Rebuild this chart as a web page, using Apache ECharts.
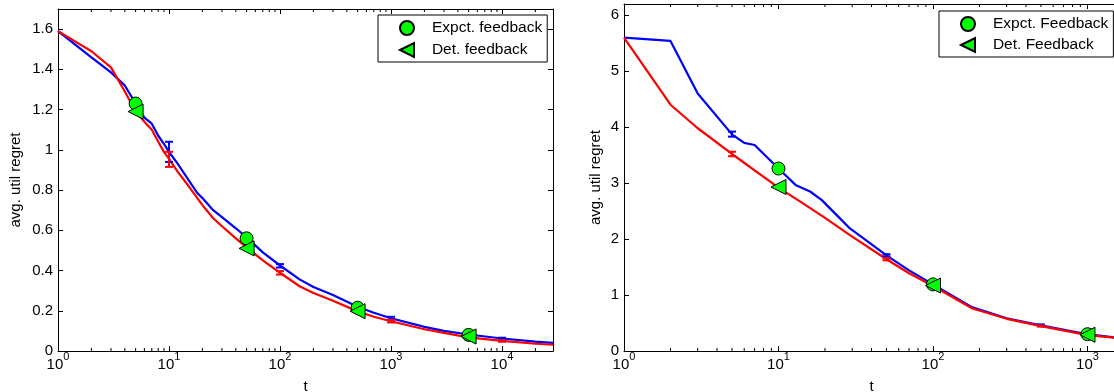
<!DOCTYPE html>
<html><head><meta charset="utf-8">
<script src="https://cdn.jsdelivr.net/npm/echarts@6/dist/echarts.min.js"></script>
<style>html,body{margin:0;padding:0;background:#fff}#c{width:1114px;height:392px}</style>
</head><body><div id="c"></div>
<script>
// ---------- Left panel data ----------
const leftT      = [1,2,3,4,5,6,7,8,9,10,12,15,18,20,25,30,40,50,70,100,150,200,300,500,700,1000,2000,3000,5000,10000,20000,28800];
const leftExp    = [1.59,1.46,1.385,1.32,1.23,1.16,1.13,1.07,1.03,0.99,0.93,0.85,0.785,0.76,0.70,0.665,0.61,0.565,0.49,0.425,0.356,0.318,0.278,0.22,0.19,0.163,0.12,0.10,0.082,0.062,0.047,0.04];
const leftDet    = [1.59,1.49,1.41,1.29,1.19,1.14,1.10,1.04,0.99,0.955,0.89,0.82,0.76,0.725,0.66,0.62,0.56,0.515,0.45,0.389,0.322,0.288,0.25,0.197,0.17,0.148,0.108,0.09,0.068,0.05,0.036,0.031];
const leftErrT   = [10,100,1000,10000];
const leftExpLo  = [0.94,0.415,0.156,0.058];
const leftExpHi  = [1.04,0.432,0.170,0.066];
const leftDetLo  = [0.915,0.380,0.142,0.046];
const leftDetHi  = [0.99,0.397,0.154,0.054];
const leftMarkT  = [5,50,500,5000];
const leftMarkExp= [1.23,0.56,0.215,0.08];
const leftMarkDet= [1.19,0.51,0.198,0.072];
const leftNames  = ['Expct. feedback','Det. feedback'];

// ---------- Right panel data ----------
const rightT     = [1,2,3,5,6,7,10,13,16,19,25,29,50,70,100,180,300,500,1000,1600];
const rightExp   = [5.6,5.54,4.6,3.87,3.72,3.68,3.26,2.96,2.85,2.70,2.37,2.19,1.71,1.44,1.19,0.78,0.585,0.46,0.30,0.235];
const rightDetT  = [1,2,3,5,10,14,20,29,50,70,100,180,300,500,1000,1600];
const rightDet   = [5.6,4.4,3.98,3.52,2.92,2.66,2.38,2.07,1.64,1.39,1.16,0.76,0.575,0.445,0.285,0.23];
const rightErrT  = [5,50,500];
const rightExpLo = [3.83,1.69,0.45];
const rightExpHi = [3.92,1.73,0.475];
const rightDetLo = [3.48,1.62,0.435];
const rightDetHi = [3.56,1.66,0.455];
const rightMarkT = [10,100,1000];
const rightMarkExp=[3.26,1.19,0.30];
const rightMarkDet=[2.93,1.17,0.29];
const rightNames = ['Expct. Feedback','Det. Feedback'];

const yTitle = 'avg. util regret';
const xTitle = 't';

// ---------- helpers ----------
const FONT = 'Liberation Sans, Arial, Helvetica, sans-serif';
const BLUE = '#0000ff', RED = '#ff0000', GREEN = '#00ff00';
const TRI = 'path://M0,5L10,0L10,10Z';
const pairs = (ts, vs) => ts.map((t,i)=>[t, vs[i]]);
const triples = (ts, lo, hi) => ts.map((t,i)=>[t, lo[i], hi[i]]);
function minorTicks(maxV){ const out=[]; for(let d=1; d<maxV; d*=10){ for(let k=2;k<=9;k++){ const v=k*d; if(v<maxV) out.push([v,0]); } } return out; }

function errRender(color){
  return function(params, api){
    const a = api.coord([api.value(0), api.value(1)]);
    const b = api.coord([api.value(0), api.value(2)]);
    const w = 4, st = {stroke: color, lineWidth: 2};
    return {type:'group', children:[
      {type:'line', shape:{x1:a[0],y1:a[1],x2:b[0],y2:b[1]}, style:st},
      {type:'line', shape:{x1:a[0]-w,y1:a[1],x2:a[0]+w,y2:a[1]}, style:st},
      {type:'line', shape:{x1:b[0]-w,y1:b[1],x2:b[0]+w,y2:b[1]}, style:st}
    ]};
  };
}
function minorRender(params, api){
  const cs = params.coordSys;
  const x = api.coord([api.value(0), 0])[0];
  const bot = cs.y + cs.height, top = cs.y;
  const st = {stroke:'#000', lineWidth:1};
  return {type:'group', children:[
    {type:'line', shape:{x1:x,y1:bot,x2:x,y2:bot-3}, style:st},
    {type:'line', shape:{x1:x,y1:top,x2:x,y2:top+3}, style:st}
  ]};
}
const logLabel = v => { const l=Math.log10(v), r=Math.round(l); if(Math.abs(l-r)>1e-6) return ''; return '{b|10}{s|'+r+'}'; };
const axLine = {show:true, onZero:false, lineStyle:{color:'#000', width:1}};
const tick = {show:true, inside:true, length:5, lineStyle:{color:'#000', width:1}};

function xAxes(grid, maxV){
  return [
    {gridIndex:grid, type:'log', logBase:10, min:1, max:maxV, position:'bottom',
     axisLine:axLine, axisTick:tick, splitLine:{show:false}, minorTick:{show:false},
     axisLabel:{color:'#000', fontFamily:FONT, margin:6, showMaxLabel:false, showMinLabel:true, formatter:logLabel,
       rich:{b:{fontSize:15, fontFamily:FONT, color:'#000', lineHeight:15, verticalAlign:'bottom'},
             s:{fontSize:11, fontFamily:FONT, color:'#000', lineHeight:11, verticalAlign:'bottom', padding:[0,0,10,0]}}},
     name:xTitle, nameLocation:'middle', nameGap:28, nameTextStyle:{color:'#000', fontSize:15, fontFamily:FONT}},
    {gridIndex:grid, type:'log', logBase:10, min:1, max:maxV, position:'top',
     axisLine:axLine, axisTick:tick, axisLabel:{show:false}, splitLine:{show:false}}
  ];
}
function yAxes(grid, maxV, step, gap){
  return [
    {gridIndex:grid, type:'value', min:0, max:maxV, interval:step, position:'left',
     axisLine:axLine, axisTick:tick, splitLine:{show:false},
     axisLabel:{color:'#000', fontSize:15, fontFamily:FONT, margin:5, showMaxLabel:false,
       formatter: v => String(+v.toFixed(1))},
     name:yTitle, nameLocation:'middle', nameGap:gap, nameTextStyle:{color:'#000', fontSize:15, fontFamily:FONT}},
    {gridIndex:grid, type:'value', min:0, max:maxV, interval:step, position:'right',
     axisLine:axLine, axisTick:tick, axisLabel:{show:false}, splitLine:{show:false}}
  ];
}
function panelSeries(xi, yi, T, E, DT, D, ET, ELo, EHi, DLo, DHi, MT, ME, MD, names, maxV){
  return [
    {type:'custom', xAxisIndex:xi, yAxisIndex:yi, renderItem:minorRender, data:minorTicks(maxV), silent:true, z:1},
    {type:'line', name:names[0]+' line', xAxisIndex:xi, yAxisIndex:yi, data:pairs(T,E), symbol:'none', lineStyle:{color:BLUE, width:2.2}, itemStyle:{color:BLUE}, z:2},
    {type:'line', name:names[1]+' line', xAxisIndex:xi, yAxisIndex:yi, data:pairs(DT,D), symbol:'none', lineStyle:{color:RED, width:2.2}, itemStyle:{color:RED}, z:2},
    {type:'custom', xAxisIndex:xi, yAxisIndex:yi, renderItem:errRender(BLUE), data:triples(ET,ELo,EHi), z:3},
    {type:'custom', xAxisIndex:xi, yAxisIndex:yi, renderItem:errRender(RED), data:triples(ET,DLo,DHi), z:3},
    {type:'scatter', name:names[0], xAxisIndex:xi, yAxisIndex:yi, data:pairs(MT,ME), symbol:'circle', symbolSize:13,
     itemStyle:{color:GREEN, borderColor:'#000', borderWidth:1, opacity:1}, z:4},
    {type:'scatter', name:names[1], xAxisIndex:xi, yAxisIndex:yi, data:pairs(MT,MD), symbol:TRI, symbolSize:[15,15],
     itemStyle:{color:GREEN, borderColor:'#000', borderWidth:1, opacity:1}, z:5}
  ];
}
function legendBox(names, left, top, gap){
  return {data:names, left:left, top:top, orient:'vertical', itemWidth:14, itemHeight:14, itemGap:gap,
    padding:[5,5,4,21], borderColor:'#000', borderWidth:1, borderRadius:0, backgroundColor:'#fff',
    selectedMode:false, formatter: n => '   ' + n,
    textStyle:{color:'#000', fontSize:15.5, fontFamily:FONT}};
}

const LMAX = 28800, RMAX = 1600;
const option = {
  animation:false,
  backgroundColor:'#fff',
  grid:[
    {left:58, top:9, width:495, height:342, outerBoundsMode:'none', containLabel:false},
    {left:624, top:4, width:495, height:347, outerBoundsMode:'none', containLabel:false}
  ],
  xAxis:[...xAxes(0, LMAX), ...xAxes(1, RMAX)],
  yAxis:[...yAxes(0, 1.7, 0.2, 35), ...yAxes(1, 6.2, 1, 21)],
  legend:[legendBox(leftNames, 378, 15, 6), legendBox(rightNames, 939, 11, 5)],
  series:[
    ...panelSeries(0, 0, leftT, leftExp, leftT, leftDet, leftErrT, leftExpLo, leftExpHi, leftDetLo, leftDetHi, leftMarkT, leftMarkExp, leftMarkDet, leftNames, LMAX),
    ...panelSeries(2, 2, rightT, rightExp, rightDetT, rightDet, rightErrT, rightExpLo, rightExpHi, rightDetLo, rightDetHi, rightMarkT, rightMarkExp, rightMarkDet, rightNames, RMAX)
  ]
};
const chart = echarts.init(document.getElementById('c'));
chart.setOption(option);
</script></body></html>
